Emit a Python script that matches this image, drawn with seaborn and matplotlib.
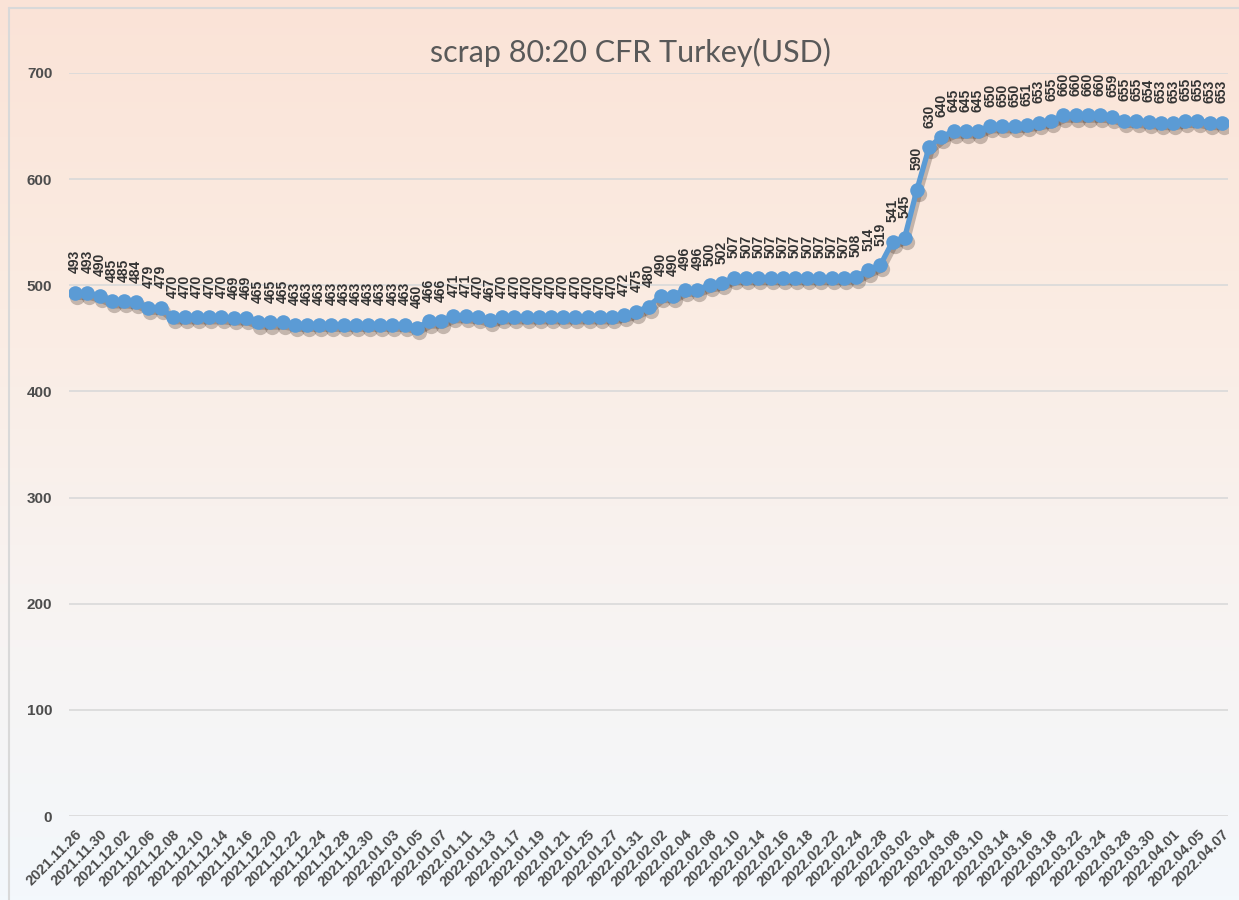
import numpy as np
import pandas as pd
import matplotlib
matplotlib.use("Agg")
import matplotlib.pyplot as plt
import matplotlib.transforms as mtransforms
import seaborn as sns
from matplotlib.colors import LinearSegmentedColormap

# data, one value per business day
values = [493, 493, 490, 485, 485, 484, 479, 479, 470, 470,
          470, 470, 470, 469, 469, 465, 465, 465, 463, 463,
          463, 463, 463, 463, 463, 463, 463, 463, 460, 466,
          466, 471, 471, 470, 467, 470, 470, 470, 470, 470,
          470, 470, 470, 470, 470, 472, 475, 480, 490, 490,
          496, 496, 500, 502, 507, 507, 507, 507, 507, 507,
          507, 507, 507, 507, 508, 514, 519, 541, 545, 590,
          630, 640, 645, 645, 645, 650, 650, 650, 651, 653,
          655, 660, 660, 660, 660, 659, 655, 655, 654, 653,
          653, 655, 655, 653, 653]

# every other date is shown on the axis
tick_labels = ['2021.11.26', '2021.11.30', '2021.12.02', '2021.12.06', '2021.12.08',
               '2021.12.10', '2021.12.14', '2021.12.16', '2021.12.20', '2021.12.22',
               '2021.12.24', '2021.12.28', '2021.12.30', '2022.01.03', '2022.01.05',
               '2022.01.07', '2022.01.11', '2022.01.13', '2022.01.17', '2022.01.19',
               '2022.01.21', '2022.01.25', '2022.01.27', '2022.01.31', '2022.02.02',
               '2022.02.04', '2022.02.08', '2022.02.10', '2022.02.14', '2022.02.16',
               '2022.02.18', '2022.02.22', '2022.02.24', '2022.02.28', '2022.03.02',
               '2022.03.04', '2022.03.08', '2022.03.10', '2022.03.14', '2022.03.16',
               '2022.03.18', '2022.03.22', '2022.03.24', '2022.03.28', '2022.03.30',
               '2022.04.01', '2022.04.05', '2022.04.07']

y_ticks = [0, 100, 200, 300, 400, 500, 600, 700]
title = 'scrap 80:20 CFR Turkey(USD)'

sns.set_style('white')
plt.rcParams['font.family'] = ['Liberation Sans', 'DejaVu Sans']

fig = plt.figure(figsize=(12.39, 9), dpi=100)

# background gradient (peach on top, pale blue at the bottom)
bg = fig.add_axes([0, 0, 1, 1], zorder=0)
cmap = LinearSegmentedColormap.from_list(
    'bg', [(0.0, '#F3F8FC'), (0.35, '#F8F3F1'), (0.7, '#FBEBE1'), (1.0, '#FAE3D7')])
grad = np.linspace(0, 1, 256).reshape(-1, 1)
bg.imshow(grad, aspect='auto', cmap=cmap, origin='lower', extent=[0, 1, 0, 1])
bg.plot([9 / 1239, 9 / 1239], [0, 1 - 8 / 900], color='#D9D9D9', lw=1.5)
bg.plot([9 / 1239, 1], [1 - 8 / 900, 1 - 8 / 900], color='#D9D9D9', lw=1.5)
bg.set_xlim(0, 1)
bg.set_ylim(0, 1)
bg.axis('off')

ax = fig.add_axes([69 / 1239, 1 - 816 / 900, (1228 - 69) / 1239, (816 - 73) / 900], zorder=1)
ax.patch.set_alpha(0)

df = pd.DataFrame({'idx': np.arange(len(values)), 'price': values})

# soft drop shadow under the line
shadow = ax.transData + mtransforms.ScaledTranslation(1.5 / 72, -3 / 72, fig.dpi_scale_trans)
ax.plot(df['idx'], df['price'], color='#4a3a30', alpha=0.3, lw=4.5, marker='o',
        markersize=11, markeredgewidth=0, transform=shadow, zorder=2)

sns.lineplot(data=df, x='idx', y='price', ax=ax, color='#5B9BD5', lw=3.8,
             marker='o', markersize=10.5, markeredgewidth=0, zorder=3)

for i, v in zip(df['idx'], df['price']):
    ax.annotate(str(v), (i, v), xytext=(0, 14), textcoords='offset points',
                rotation=90, ha='center', va='bottom', fontsize=10,
                fontweight='bold', color='#333333', annotation_clip=False)

ax.set_xlim(-0.5, len(values) - 0.5)
ax.set_ylim(0, 700)
ax.set_yticks(y_ticks)
ax.set_yticklabels([str(t) for t in y_ticks], fontsize=11, fontweight='bold', color='#4d4d4d')
ax.set_xticks(np.arange(0, len(values), 2))
ax.set_xticklabels(tick_labels, rotation=45, ha='right', rotation_mode='anchor',
                   fontsize=10.5, fontweight='bold', color='#4d4d4d')
ax.tick_params(axis='y', length=0, pad=12)
ax.tick_params(axis='x', length=0, pad=8)
ax.set_xlabel('')
ax.set_ylabel('')
ax.yaxis.grid(True, color='#D9D9D9', lw=1.2)
ax.xaxis.grid(False)
ax.set_axisbelow(True)
for s in ax.spines.values():
    s.set_visible(False)

fig.text(630 / 1239, 1 - 62 / 900, title, ha='center', va='baseline',
         fontsize=22, color='#595959', family=['Lato', 'DejaVu Sans'])

fig.savefig('out.png', dpi=100)
